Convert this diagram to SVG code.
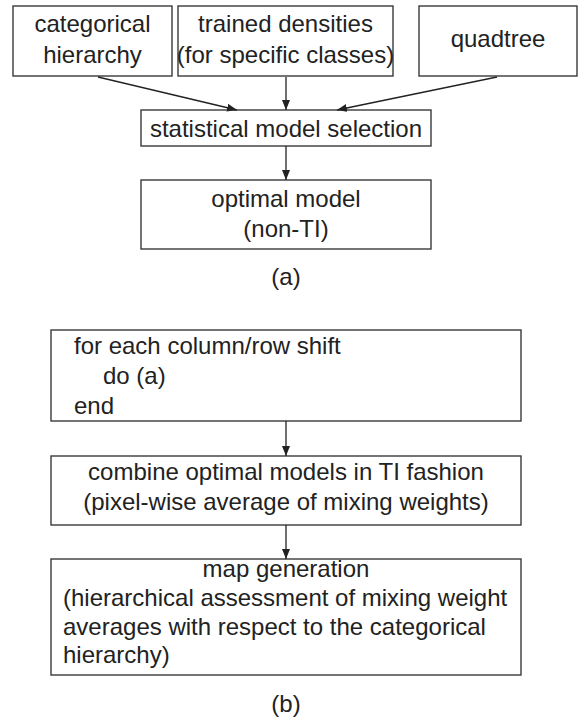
<svg xmlns="http://www.w3.org/2000/svg" width="578" height="724" viewBox="0 0 578 724">
  <style>
    .box { fill: #ffffff; stroke: #3a3a3a; stroke-width: 1.4; }
    .lbl { font-family: "Liberation Sans", Arial, sans-serif; font-size: 24px; fill: #222222; }
    .mid { text-anchor: middle; }
    .edge { stroke: #222222; stroke-width: 1.3; fill: none; marker-end: url(#head); }
  </style>
  <defs>
    <marker id="head" markerUnits="userSpaceOnUse" markerWidth="10" markerHeight="8" refX="10" refY="4" orient="auto">
      <path d="M0,0 L10,4 L0,8 z" fill="#222222"/>
    </marker>
  </defs>

  <rect width="578" height="724" fill="#ffffff"/>

  <!-- (a) inputs -->
  <g id="categorical-hierarchy">
    <rect class="box" x="13" y="6" width="159" height="70"/>
    <text class="lbl mid" x="92.5" y="32">categorical</text>
    <text class="lbl mid" x="92.5" y="63">hierarchy</text>
  </g>
  <g id="trained-densities">
    <rect class="box" x="178" y="6" width="215" height="70"/>
    <text class="lbl mid" x="285.5" y="32">trained densities</text>
    <text class="lbl mid" x="285.5" y="63">(for specific classes)</text>
  </g>
  <g id="quadtree">
    <rect class="box" x="419" y="6" width="158" height="70"/>
    <text class="lbl mid" x="498" y="47">quadtree</text>
  </g>
  <g id="model-selection">
    <rect class="box" x="141" y="110" width="290" height="36"/>
    <text class="lbl mid" x="286" y="137">statistical model selection</text>
  </g>
  <g id="optimal-model">
    <rect class="box" x="141" y="180" width="290" height="69"/>
    <text class="lbl mid" x="286" y="207">optimal model</text>
    <text class="lbl mid" x="286" y="237">(non-TI)</text>
  </g>
  <text class="lbl mid" x="286" y="285">(a)</text>

  <!-- (b) procedure -->
  <g id="shift-loop">
    <rect class="box" x="51" y="330" width="470" height="91"/>
    <text class="lbl" x="74" y="354">for each column/row shift</text>
    <text class="lbl" x="103" y="384">do (a)</text>
    <text class="lbl" x="74" y="414">end</text>
  </g>
  <g id="combine-models">
    <rect class="box" x="51" y="456" width="470" height="69"/>
    <text class="lbl mid" x="286" y="480">combine optimal models in TI fashion</text>
    <text class="lbl mid" x="286" y="510">(pixel-wise average of mixing weights)</text>
  </g>
  <g id="map-generation">
    <rect class="box" x="51" y="559" width="470" height="116"/>
    <text class="lbl mid" x="286" y="577">map generation</text>
    <text class="lbl" x="63" y="606">(hierarchical assessment of mixing weight</text>
    <text class="lbl" x="63" y="635">averages with respect to the categorical</text>
    <text class="lbl" x="63" y="663">hierarchy)</text>
  </g>
  <text class="lbl mid" x="286" y="712">(b)</text>

  <g id="connectors">
    <line class="edge" x1="98" y1="77" x2="237" y2="110"/>
    <line class="edge" x1="286" y1="77" x2="286" y2="110"/>
    <line class="edge" x1="497" y1="77" x2="337" y2="110"/>
    <line class="edge" x1="286" y1="146" x2="286" y2="180"/>
    <line class="edge" x1="286" y1="421" x2="286" y2="456"/>
    <line class="edge" x1="286" y1="525" x2="286" y2="559"/>
  </g>
</svg>
